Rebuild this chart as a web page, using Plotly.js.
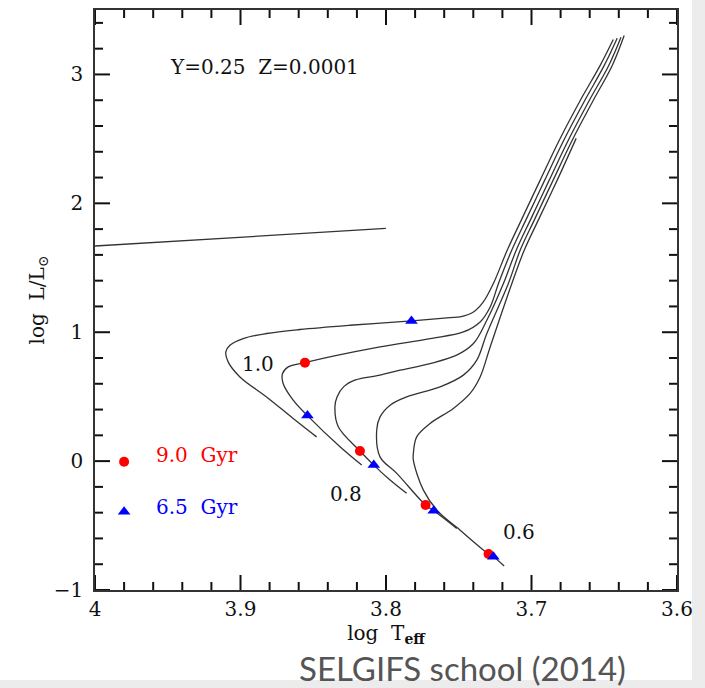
<!DOCTYPE html>
<html>
<head>
<meta charset="utf-8">
<script src="https://cdn.plot.ly/plotly-3.0.1.min.js"></script>
<style>html,body{margin:0;padding:0;background:#fff;}#chart{width:705px;height:688px;}</style>
</head>
<body>
<div id="chart"></div>
<script>
// Evolutionary tracks (log Teff, log L/Lsun), masses in Msun
var track10_x = [3.8477,3.8638,3.8821,3.9004,3.9085,3.9101,3.9073,3.8982,3.8821,3.8592,3.8248,3.7825,3.7560,3.7491,3.7399,3.7331,3.7262,3.7167,3.7071,3.6941,3.6810,3.6665,3.6528,3.6438];
var track10_y = [0.188,0.331,0.498,0.653,0.770,0.847,0.899,0.951,0.990,1.021,1.054,1.088,1.114,1.119,1.157,1.235,1.378,1.636,1.868,2.178,2.488,2.798,3.070,3.271];
var track09_x = [3.8167,3.8316,3.8540,3.8638,3.8707,3.8711,3.8672,3.8557,3.8363,3.8041,3.7697,3.7468,3.7353,3.7284,3.7227,3.7136,3.7040,3.6910,3.6779,3.6634,3.6500,3.6411];
var track09_y = [-0.031,0.111,0.353,0.473,0.602,0.680,0.731,0.764,0.814,0.886,0.951,1.002,1.080,1.196,1.378,1.636,1.868,2.178,2.488,2.798,3.070,3.281];
var track08_x = [3.7858,3.7972,3.8084,3.8179,3.8328,3.8351,3.8336,3.8290,3.8210,3.8041,3.7904,3.7697,3.7514,3.7399,3.7307,3.7193,3.7105,3.7009,3.6879,3.6748,3.6603,3.6469,3.6385];
var track08_y = [-0.250,-0.147,-0.031,0.078,0.266,0.421,0.500,0.578,0.630,0.667,0.705,0.757,0.822,0.912,1.093,1.378,1.636,1.868,2.178,2.488,2.798,3.070,3.289];
var track07_x = [3.7514,3.7670,3.7728,3.7926,3.8041,3.8064,3.8041,3.7972,3.7858,3.7628,3.7468,3.7376,3.7307,3.7159,3.7078,3.6982,3.6852,3.6721,3.6576,3.6445,3.6363];
var track07_y = [-0.522,-0.385,-0.341,-0.095,0.033,0.240,0.343,0.434,0.498,0.576,0.667,0.783,0.990,1.378,1.636,1.868,2.178,2.488,2.798,3.070,3.302];
var track06_x = [3.7188,3.7262,3.7296,3.7514,3.7640,3.7743,3.7812,3.7812,3.7789,3.7697,3.7537,3.7422,3.7353,3.7284,3.7135,3.7050,3.6954,3.6824,3.6693];
var track06_y = [-0.814,-0.742,-0.721,-0.514,-0.393,-0.225,0.008,0.060,0.188,0.292,0.409,0.525,0.653,0.886,1.378,1.636,1.868,2.178,2.504];
// Horizontal branch segment
var hb_x = [4.0, 3.9, 3.8001];
var hb_y = [1.669, 1.737, 1.805];
// Age markers
var age9_x = [3.8557,3.8179,3.7728,3.7295];
var age9_y = [0.764,0.078,-0.341,-0.721];
var age65_x = [3.7825,3.8540,3.8084,3.7672,3.7262];
var age65_y = [1.088,0.353,-0.031,-0.385,-0.742];
// Legend keys
var legend_labels = ["9.0  Gyr","6.5  Gyr"];
var legend_x = [3.980, 3.980];
var legend_y = [-0.005, -0.393];
var legend_text_x = 3.9594;
var legend_text_y = [0.047, -0.354];
// Mass labels
var mass_labels = ["1.0","0.8","0.6"];
var mass_x = [3.8879, 3.8275, 3.7087];
var mass_y = [0.750, -0.252, -0.550];
// Axis ranges and tick values
var xrange = [4, 3.6];
var yrange = [-1, 3.5];
var xmajor_ticks = [4.0, 3.9, 3.8, 3.7, 3.6];
var xtick_labels = ["4","3.9","3.8","3.7","3.6"];
var ymajor_ticks = [-1, 0, 1, 2, 3];
var ytick_labels = ["\u22121","0","1","2","3"];
var xminor_step = 0.02, yminor_step = 0.2;

var FONT = "DejaVu Serif";
var lineStyle = {color:'#333', width:1.3, shape:'spline', smoothing:1.0};
function trk(x,y){return {x:x,y:y,type:'scatter',mode:'lines',line:lineStyle,hoverinfo:'skip',showlegend:false};}

var data = [];
// Inside tick marks on all four sides, one small trace per tick, through the axis scales
var PLOT_W = 705-95-28, PLOT_H = 688-10-98;
var xPerPx = Math.abs(xrange[0]-xrange[1])/PLOT_W, yPerPx = (yrange[1]-yrange[0])/PLOT_H;
var tickLine = {color:'#111', width:2};
function seg(xa,ya){ data.push({x:xa,y:ya,type:'scatter',mode:'lines',line:tickLine,hoverinfo:'skip',showlegend:false,cliponaxis:false}); }
function xtick(v,len){
  var d = len*yPerPx;
  seg([v,v],[yrange[0],yrange[0]+d]);
  seg([v,v],[yrange[1],yrange[1]-d]);
}
function ytick(v,len){
  var d = len*xPerPx;
  seg([xrange[0],xrange[0]-d],[v,v]);
  seg([xrange[1],xrange[1]+d],[v,v]);
}
xmajor_ticks.forEach(function(v){xtick(v,15);});
ymajor_ticks.forEach(function(v){ytick(v,15);});
for (var k=1;k<20;k++){ if (k%5!==0) xtick(xrange[0]-k*xminor_step,8); }
for (var k=1;k<23;k++){ if (k%5!==0) ytick(yrange[0]+k*yminor_step,8); }

data.push(
  trk(track10_x,track10_y), trk(track09_x,track09_y), trk(track08_x,track08_y),
  trk(track07_x,track07_y), trk(track06_x,track06_y),
  {x:hb_x,y:hb_y,type:'scatter',mode:'lines',line:{color:'#333',width:1.3},showlegend:false},
  {x:age9_x,y:age9_y,type:'scatter',mode:'markers',marker:{symbol:'circle',size:10,color:'#ff0000'},showlegend:false},
  {x:age65_x,y:age65_y,type:'scatter',mode:'markers',marker:{symbol:'triangle-up',size:11,color:'#0000ff'},showlegend:false},
  {x:[legend_x[0]],y:[legend_y[0]],type:'scatter',mode:'markers',marker:{symbol:'circle',size:10,color:'#ff0000'},showlegend:false},
  {x:[legend_x[1]],y:[legend_y[1]],type:'scatter',mode:'markers',marker:{symbol:'triangle-up',size:11,color:'#0000ff'},showlegend:false}
);

var annotations = [
  {x:3.9498,y:3.057,xref:'x',yref:'y',text:'Y=0.25  Z=0.0001',showarrow:false,xanchor:'left',yanchor:'middle',font:{family:FONT,size:20,color:'#111'}},
  {x:legend_text_x,y:legend_text_y[0],xref:'x',yref:'y',text:legend_labels[0],showarrow:false,xanchor:'left',yanchor:'middle',font:{family:FONT,size:20,color:'#ff0000'}},
  {x:legend_text_x,y:legend_text_y[1],xref:'x',yref:'y',text:legend_labels[1],showarrow:false,xanchor:'left',yanchor:'middle',font:{family:FONT,size:20,color:'#0000ff'}},
  {x:0.632,y:-0.1345,xref:'paper',yref:'paper',text:'SELGIFS school (2014)',showarrow:false,xanchor:'center',yanchor:'middle',font:{family:'Lato',size:33,color:'#555'}}
];
for (var i=0;i<mass_labels.length;i++){
  annotations.push({x:mass_x[i],y:mass_y[i],xref:'x',yref:'y',text:mass_labels[i],showarrow:false,xanchor:'center',yanchor:'middle',font:{family:FONT,size:20,color:'#111'}});
}

var layout = {
  width:705, height:688,
  margin:{l:95,r:28,t:10,b:98},
  paper_bgcolor:'#ffffff', plot_bgcolor:'#ffffff',
  showlegend:false,
  font:{family:FONT,size:20,color:'#111'},
  xaxis:{
    range:xrange, tickvals:xmajor_ticks, ticktext:xtick_labels,
    ticks:'', showline:true, linecolor:'#333', linewidth:1.5, mirror:true,
    showgrid:false, zeroline:false,
    tickfont:{family:FONT,size:20,color:'#111'},
    title:{text:'log  T<sub><b>eff</b></sub>', font:{family:FONT,size:20,color:'#111'}, standoff:4}
  },
  yaxis:{
    range:yrange, tickvals:ymajor_ticks, ticktext:ytick_labels,
    ticks:'', showline:true, linecolor:'#333', linewidth:1.5, mirror:true,
    showgrid:false, zeroline:false, ticklabelstandoff:6,
    tickfont:{family:FONT,size:20,color:'#111'},
    title:{text:'log  L/L<sub>\u2299</sub>', font:{family:FONT,size:20,color:'#111'}, standoff:4}
  },
  annotations:annotations,
  shapes:[
    {type:'rect',xref:'paper',yref:'paper',x0:1.0258,x1:1.06,y0:-0.2,y1:1.02,fillcolor:'#ececec',line:{width:0},layer:'below'},
    {type:'rect',xref:'paper',yref:'paper',x0:-0.2,x1:1.06,y0:-0.2,y1:-0.155,fillcolor:'#ececec',line:{width:0},layer:'below'}
  ]
};

Plotly.newPlot('chart', data, layout, {displayModeBar:false});
</script>
</body>
</html>
